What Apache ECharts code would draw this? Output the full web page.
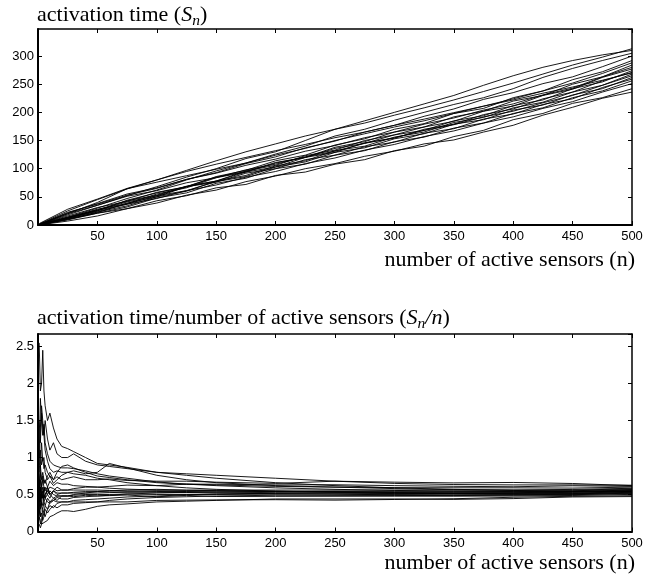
<!DOCTYPE html>
<html>
<head>
<meta charset="utf-8">
<script src="https://cdn.jsdelivr.net/npm/echarts@6/dist/echarts.min.js"></script>
<style>
html,body{margin:0;padding:0;background:#fff;}
#chart{width:658px;height:575px;}
</style>
</head>
<body>
<div id="chart"></div>
<script>
// n values at which the cumulative activation time S_n is read (top panel)
const topN = [1,25,50,75,100,125,150,175,200,225,250,275,300,325,350,375,400,425,450,475,500];
// S_n curves (top panel), one per simulation run
const topRun1  = [0.5,18,35,52,68,85,100,118,130,150,170,185,200,215,230,248,265,280,292,302,310];
const topRun2  = [1.5,25,45,64,80,97,114,130,144,158,170,181,195,208,222,237,252,268,284,298,313];
const topRun3  = [0.3,14,30,47,62,80,96,110,126,140,158,170,186,200,214,226,242,262,278,292,305];
const topRun4  = [0.8,22.5,37,53,65,81,93,109,121,137,149,165,177,193,206,223,235,251,263,281,300];
const topRun5  = [0.2,12,25,44,57,68,86,97,114,124,142,153,170,180,198,207,226,238,258,272,292];
const topRun6  = [0.6,20,40,64.5,76,87.5,99,110,124,136,150,162,174,185,198,211,224,238,252,269,288];
const topRun7  = [0.4,13,28,38,55,66,84,94,110,120,138,148,165,174,192,202,220,230,250,263,284];
const topRun8  = [1.0,21.5,38,55,66,81,92,106,117,131,141,155,165,179,190,204,215,231,243,263,280];
const topRun9  = [0.3,11,22,39,50,68,78,96,106,123,133,150,160,174,184,202,211,230,241,262,277];
const topRun10 = [0.7,16,31,42,58,68,85,95,111,120,136,145,160,168,185,194,212,222,242,254,274];
const topRun11 = [0.5,14,27,43,53,69,78,94,103,120,129,146,154,170,179,196,206,224,236,256,271];
const topRun12 = [0.2,10,23,34,50,60,78,88,105,114,132,140,156,165,182,191,208,218,236,248,268];
const topRun13 = [0.9,20,35,51,61,75,84,98,108,121,131,145,155,168,178,192,202,217,230,248,265];
const topRun14 = [0.4,12,26,37,52,61,77,86,103,112,129,137,153,162,179,187,204,213,231,242,262];
const topRun15 = [0.6,13,26,41,52,68,76,92,100,116,124,139,147,163,171,188,197,214,224,244,259];
const topRun16 = [0.3,9,21,32,48,57,74,83,100,108,124,132,148,156,172,181,198,208,226,238,256];
const topRun17 = [0.5,12,24,37,47,61,71,85,95,109,119,133,143,157,167,181,192,207,219,236,251];
const topRun18 = [0.2,10,21,29,43,52,66,72,88,94,108,116,132,140,157,168,187,198,216,226,242];
const topRun19 = [0.1,7,16,29,39,53,62,77,87,100,109,122,131,144,151,165,177,195,209,225,236];
const topRun20 = [2.55,28,46,65,80,95,108,120,132,143,155,165,177,188,199.5,211,222,234,245,257,270];

// n values at which S_n/n is read (bottom panel)
const ratioN = [1,2,3,4,5,6,8,10,13,16,20,25,30,40,50,60,75,100,125,150,200,250,300,350,400,450,500];
const ratioRun1  = [0.5,0.9,0.7,0.8,0.7,0.65,0.75,0.8,0.7,0.74,0.7,0.72,0.74,0.70,0.70,0.71,0.69,0.68,0.68,0.667,0.65,0.68,0.667,0.657,0.663,0.649,0.62];
const ratioRun2  = [1.5,1.2,1.6,1.4,1.3,1.5,1.25,1.1,1.2,1.05,1.0,1.0,1.05,0.95,0.9,0.88,0.85,0.8,0.78,0.76,0.72,0.68,0.65,0.635,0.63,0.63,0.626];
const ratioRun3  = [0.3,0.2,0.4,0.35,0.5,0.45,0.6,0.5,0.55,0.6,0.56,0.56,0.58,0.6,0.6,0.61,0.627,0.62,0.64,0.64,0.63,0.632,0.62,0.611,0.605,0.618,0.61];
const ratioRun4  = [0.8,1.1,0.9,1.0,0.85,0.9,0.8,0.75,0.7,0.8,0.88,0.9,0.86,0.8,0.75,0.73,0.7,0.66,0.64,0.63,0.61,0.60,0.593,0.591,0.59,0.587,0.60];
const ratioRun5  = [0.2,0.1,0.15,0.3,0.25,0.35,0.3,0.4,0.45,0.42,0.48,0.48,0.5,0.52,0.54,0.55,0.56,0.57,0.56,0.56,0.56,0.56,0.56,0.56,0.56,0.569,0.584];
const ratioRun6  = [0.6,0.9,1.2,0.95,1.0,0.8,0.7,0.75,0.65,0.7,0.76,0.8,0.82,0.78,0.8,0.92,0.86,0.76,0.7,0.66,0.62,0.6,0.58,0.565,0.56,0.56,0.576];
const ratioRun7  = [0.4,0.6,0.45,0.5,0.55,0.6,0.5,0.45,0.55,0.5,0.52,0.52,0.52,0.52,0.52,0.525,0.533,0.54,0.545,0.547,0.54,0.544,0.543,0.543,0.545,0.551,0.568];
const ratioRun8  = [1.0,1.8,1.5,1.3,1.45,1.2,1.05,0.95,0.9,0.88,0.86,0.86,0.85,0.82,0.78,0.75,0.72,0.67,0.64,0.62,0.59,0.57,0.555,0.545,0.54,0.542,0.56];
const ratioRun9  = [0.3,0.5,0.35,0.3,0.4,0.35,0.45,0.4,0.42,0.46,0.44,0.44,0.46,0.47,0.48,0.49,0.507,0.52,0.527,0.533,0.54,0.54,0.533,0.531,0.533,0.54,0.554];
const ratioRun10 = [0.7,0.4,0.6,0.75,0.65,0.7,0.6,0.68,0.62,0.66,0.64,0.64,0.62,0.61,0.60,0.585,0.573,0.56,0.556,0.553,0.545,0.536,0.527,0.523,0.525,0.533,0.548];
const ratioRun11 = [0.5,0.3,0.5,0.45,0.6,0.5,0.55,0.6,0.58,0.55,0.56,0.56,0.56,0.56,0.56,0.555,0.547,0.55,0.54,0.533,0.525,0.524,0.52,0.517,0.52,0.529,0.542];
const ratioRun12 = [0.2,0.15,0.1,0.2,0.25,0.2,0.3,0.35,0.32,0.38,0.40,0.40,0.42,0.43,0.44,0.45,0.467,0.48,0.496,0.507,0.515,0.52,0.513,0.514,0.515,0.52,0.536];
const ratioRun13 = [0.9,1.4,1.7,1.5,1.3,1.1,0.95,0.85,0.8,0.82,0.8,0.8,0.78,0.76,0.72,0.7,0.66,0.62,0.59,0.57,0.545,0.53,0.52,0.512,0.508,0.513,0.53];
const ratioRun14 = [0.4,0.7,0.5,0.6,0.5,0.45,0.5,0.55,0.5,0.48,0.48,0.48,0.49,0.5,0.5,0.5,0.507,0.50,0.50,0.50,0.505,0.508,0.503,0.506,0.505,0.509,0.524];
const ratioRun15 = [0.6,0.8,0.6,0.7,0.6,0.55,0.6,0.5,0.55,0.52,0.52,0.52,0.53,0.54,0.54,0.535,0.533,0.53,0.525,0.52,0.51,0.504,0.497,0.494,0.498,0.502,0.518];
const ratioRun16 = [0.3,0.2,0.25,0.15,0.2,0.3,0.25,0.3,0.35,0.32,0.36,0.36,0.38,0.39,0.40,0.42,0.44,0.46,0.47,0.48,0.49,0.488,0.487,0.486,0.49,0.498,0.512];
const ratioRun17 = [0.5,0.35,0.4,0.5,0.45,0.5,0.55,0.5,0.45,0.48,0.48,0.48,0.47,0.49,0.48,0.485,0.493,0.47,0.488,0.473,0.475,0.476,0.477,0.477,0.48,0.487,0.502];
const ratioRun18 = [0.2,0.6,0.45,0.55,0.4,0.45,0.4,0.38,0.42,0.4,0.40,0.40,0.40,0.40,0.40,0.40,0.40,0.42,0.424,0.427,0.43,0.424,0.433,0.443,0.463,0.476,0.484];
const ratioRun19 = [0.1,0.05,0.1,0.08,0.12,0.1,0.15,0.2,0.22,0.25,0.28,0.28,0.27,0.30,0.34,0.36,0.373,0.40,0.41,0.42,0.44,0.44,0.44,0.434,0.445,0.467,0.472];
const ratioRun20 = [2.55,1.9,2.0,2.45,1.9,1.7,1.5,1.6,1.4,1.25,1.15,1.12,1.08,1.0,0.92,0.9,0.867,0.80,0.76,0.72,0.66,0.62,0.59,0.57,0.555,0.545,0.54];

const topRuns = [topRun1,topRun2,topRun3,topRun4,topRun5,topRun6,topRun7,topRun8,topRun9,topRun10,
  topRun11,topRun12,topRun13,topRun14,topRun15,topRun16,topRun17,topRun18,topRun19,topRun20];
const ratioRuns = [ratioRun1,ratioRun2,ratioRun3,ratioRun4,ratioRun5,ratioRun6,ratioRun7,ratioRun8,ratioRun9,ratioRun10,
  ratioRun11,ratioRun12,ratioRun13,ratioRun14,ratioRun15,ratioRun16,ratioRun17,ratioRun18,ratioRun19,ratioRun20];

const xTicks = {min: 0, max: 500, interval: 50};
const yTopScale = {min: 0, max: 348, interval: 50};
const yBotScale = {min: 0, max: 2.67, interval: 0.5};

const sans = 'Liberation Sans, Arial, Helvetica, sans-serif';
const serif = 'Liberation Serif, Times New Roman, serif';

function mainX(gridIndex) {
  return Object.assign({
    type: 'value', gridIndex, position: 'bottom',
    axisLine: {show: true, onZero: false, lineStyle: {color: '#000', width: 2}},
    axisTick: {show: true, inside: true, length: 4, lineStyle: {color: '#000', width: 1}},
    axisLabel: {color: '#000', fontFamily: sans, fontSize: 13, margin: 5,
      showMinLabel: false, formatter: v => (v === 0 ? '' : String(v))},
    splitLine: {show: false}
  }, xTicks);
}
function mirrorX(gridIndex) {
  return Object.assign({
    type: 'value', gridIndex, position: 'top',
    axisLine: {show: true, onZero: false, lineStyle: {color: '#000', width: 1.5}},
    axisTick: {show: true, inside: true, length: 4, lineStyle: {color: '#000', width: 1}},
    axisLabel: {show: false}, splitLine: {show: false}
  }, xTicks);
}
function mainY(gridIndex, scale) {
  return Object.assign({
    type: 'value', gridIndex, position: 'left',
    axisLine: {show: true, onZero: false, lineStyle: {color: '#000', width: 2}},
    axisTick: {show: true, inside: true, length: 4, lineStyle: {color: '#000', width: 1}},
    axisLabel: {color: '#000', fontFamily: sans, fontSize: 13, margin: 4, showMaxLabel: false},
    splitLine: {show: false}
  }, scale);
}
function mirrorY(gridIndex, scale) {
  return Object.assign({
    type: 'value', gridIndex, position: 'right',
    axisLine: {show: true, onZero: false, lineStyle: {color: '#000', width: 1.5}},
    axisTick: {show: true, inside: true, length: 4, lineStyle: {color: '#000', width: 1}},
    axisLabel: {show: false}, splitLine: {show: false}
  }, scale);
}

const series = [];
topRuns.forEach(run => {
  series.push({
    type: 'line', xAxisIndex: 0, yAxisIndex: 0, showSymbol: false, symbol: 'none',
    data: run.map((v, i) => [topN[i], v]),
    lineStyle: {color: '#000', width: 0.9}, silent: true
  });
});
ratioRuns.forEach(run => {
  series.push({
    type: 'line', xAxisIndex: 2, yAxisIndex: 2, showSymbol: false, symbol: 'none',
    data: run.map((v, i) => [ratioN[i], v]),
    lineStyle: {color: '#000', width: 0.9}, silent: true
  });
});

const titleRich = {
  r: {fontFamily: serif, fontSize: 22, fontWeight: 'normal', color: '#000'},
  i: {fontFamily: serif, fontSize: 22, fontWeight: 'normal', fontStyle: 'italic', color: '#000'},
  s: {fontFamily: serif, fontSize: 15.5, fontWeight: 'normal', fontStyle: 'italic', color: '#000', padding: [12, 0, 0, 0]}
};
const xNameStyle = {fontFamily: serif, fontSize: 22, fontWeight: 'normal', color: '#000'};

const chart = echarts.init(document.getElementById('chart'), null, {renderer: 'canvas'});
chart.setOption({
  animation: false,
  backgroundColor: '#fff',
  title: [
    {left: 37, top: 1, padding: 0, text: '{r|activation time (}{i|S}{s|n}{r|)}', textStyle: {fontWeight: 'normal', rich: titleRich}},
    {right: 23, top: 249, padding: 0, text: 'number of active sensors (n)', textStyle: xNameStyle},
    {left: 37, top: 304, padding: 0, text: '{r|activation time/number of active sensors (}{i|S}{s|n}{i|/n}{r|)}', textStyle: {fontWeight: 'normal', rich: titleRich}},
    {right: 23, top: 552, padding: 0, text: 'number of active sensors (n)', textStyle: xNameStyle}
  ],
  grid: [
    {left: 38, right: 26, top: 29, height: 196, containLabel: false},
    {left: 38, right: 26, top: 334, height: 197.5, containLabel: false}
  ],
  xAxis: [mainX(0), mirrorX(0), mainX(1), mirrorX(1)],
  yAxis: [mainY(0, yTopScale), mirrorY(0, yTopScale), mainY(1, yBotScale), mirrorY(1, yBotScale)],
  series
});
</script>
</body>
</html>
